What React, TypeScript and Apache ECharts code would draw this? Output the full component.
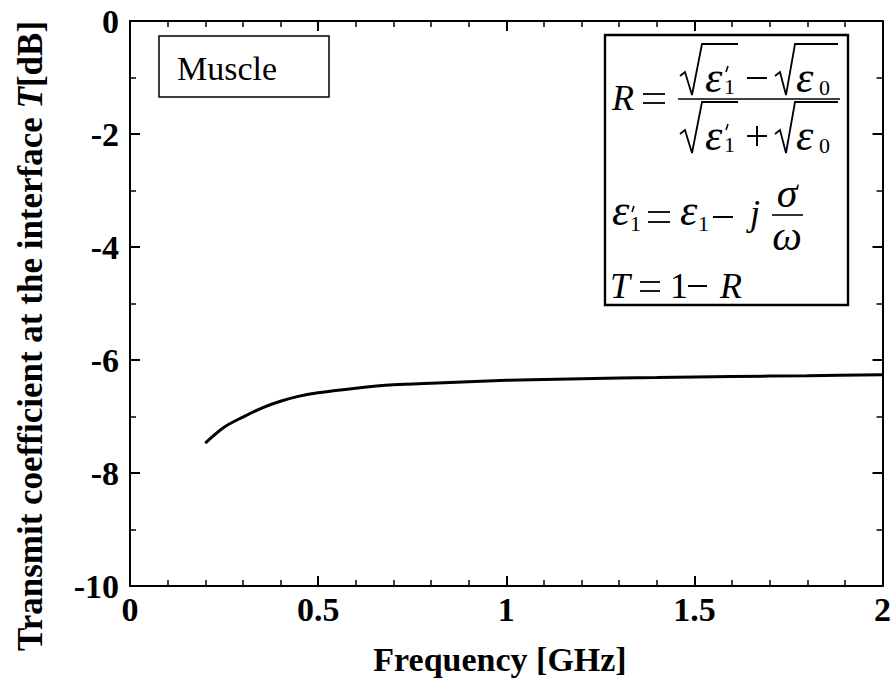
import React, { useEffect, useRef } from 'react';
import * as echarts from 'echarts';

const FREQ_GHZ = [0.2, 0.25, 0.3, 0.35, 0.4, 0.45, 0.5, 0.6, 0.7, 0.8, 1.0, 1.2, 1.4, 1.6, 1.8, 2.0];
const T_DB = [-7.47, -7.19, -7.01, -6.85, -6.73, -6.64, -6.58, -6.5, -6.44, -6.41, -6.36, -6.33, -6.31, -6.29, -6.28, -6.26];
const X_MIN = 0;
const X_MAX = 2;
const X_STEP = 0.5;
const Y_MIN = -10;
const Y_MAX = 0;
const Y_STEP = 2;
const LABEL_TEXT = 'Muscle';
const X_TITLE = 'Frequency [GHz]';
const Y_TITLE_PARTS = ['Transmit coefficient at the interface ', 'T', '[dB]'];

const SERIF = 'Liberation Serif';
const K = 0.34;

function txt(text: string, x: number, base: number, size: number, italic = false, align = 'left', weight = 'normal') {
  return {
    type: 'text',
    x,
    y: base - K * size,
    silent: true,
    style: {
      text: `{a|${text}}`,
      rich: {
        a: {
          fontSize: size,
          fontFamily: SERIF,
          fontStyle: italic ? 'italic' : 'normal',
          fontWeight: weight,
          fill: '#000',
          color: '#000',
        },
      },
      font: `${italic ? 'italic ' : ''}${weight === 'bold' ? 'bold ' : ''}${size}px ${SERIF}`,
      fill: '#000',
      align,
      verticalAlign: 'middle',
    },
  };
}
function ln(x1: number, y1: number, x2: number, y2: number, w = 1.8) {
  return { type: 'line', silent: true, shape: { x1, y1, x2, y2 }, style: { stroke: '#000', lineWidth: w } };
}
function poly(points: number[][], w = 1.8) {
  return { type: 'polyline', silent: true, shape: { points }, style: { stroke: '#000', lineWidth: w, fill: null } };
}
function prime(x: number, y: number) {
  return ln(x + 2, y, x, y + 6, 1.6);
}

function formula() {
  const els: any[] = [];
  els.push(txt('R', 612, 110, 36, true));
  els.push(ln(643, 94, 665, 94), ln(643, 103, 665, 103));
  els.push(ln(678, 99, 840, 99, 1.6));
  const part = (dy: number, op: 'minus' | 'plus') => {
    els.push(poly([[680, 76 + dy], [685, 72 + dy], [692, 95 + dy], [702, 44 + dy], [738, 44 + dy]]));
    els.push(txt('ε', 705, 92 + dy, 44, true));
    els.push(txt('1', 724, 94 + dy, 22));
    els.push(prime(726, 66 + dy));
    els.push(poly([[775, 76 + dy], [780, 72 + dy], [786, 95 + dy], [795, 44 + dy], [838, 44 + dy]]));
    els.push(txt('ε', 796, 92 + dy, 44, true));
    els.push(txt('0', 819, 95 + dy, 22));
    els.push(ln(747, 78 + dy, 767, 78 + dy, 2));
    if (op === 'plus') els.push(ln(757, 68 + dy, 757, 88 + dy, 2));
  };
  part(0, 'minus');
  part(58, 'plus');
  els.push(txt('ε', 612, 225, 44, true));
  els.push(txt('1', 630, 231, 22));
  els.push(prime(632, 206));
  els.push(ln(648, 212, 670, 212), ln(648, 222, 670, 222));
  els.push(txt('ε', 680, 225, 44, true));
  els.push(txt('1', 698, 231, 22));
  els.push(ln(713, 217, 733, 217, 2));
  els.push(txt('j', 750, 225, 36, true));
  els.push(ln(772, 215, 803, 215, 1.6));
  els.push(txt('σ', 787, 207, 42, true, 'center'));
  els.push(txt('ω', 787, 250, 42, true, 'center'));
  els.push(txt('T', 610, 298, 36, true));
  els.push(ln(640, 282, 660, 282), ln(640, 291, 660, 291));
  els.push(txt('1', 670, 298, 36));
  els.push(ln(688, 286, 707, 286, 2));
  els.push(txt('R', 720, 298, 36, true));
  return els;
}

export default function App() {
  const ref = useRef<HTMLDivElement>(null);
  useEffect(() => {
    if (!ref.current) return;
    const chart = echarts.init(ref.current, undefined, { renderer: 'svg' });
    const axisCommon = {
      type: 'value',
      axisLine: { show: true, onZero: false, lineStyle: { color: '#000', width: 2 } },
      axisTick: { show: true, inside: true, length: 10, lineStyle: { color: '#000', width: 2 } },
      splitLine: { show: false },
    };
    const richLabel = {
      t: { fontSize: 34, fontWeight: 'bold', fontFamily: SERIF, color: '#000' },
    };
    const labelStyle = {
      fontSize: 34, fontWeight: 'bold', fontFamily: SERIF, color: '#000',
      formatter: (v: number) => `{t|${v}}`,
      rich: richLabel,
    };
    const xBase = { ...axisCommon, min: X_MIN, max: X_MAX, interval: X_STEP,
      minorTick: { show: true, splitNumber: 5, length: 6, lineStyle: { color: '#000', width: 1.5 } } };
    const yBase = { ...axisCommon, min: Y_MIN, max: Y_MAX, interval: Y_STEP,
      minorTick: { show: true, splitNumber: 2, length: 6, lineStyle: { color: '#000', width: 1.5 } } };
    chart.setOption({
      animation: false,
      backgroundColor: '#fff',
      textStyle: { fontFamily: SERIF },
      grid: { left: 130, right: 11, top: 21, bottom: 99, containLabel: false },
      xAxis: [
        { ...xBase, position: 'bottom', axisLabel: { ...labelStyle, margin: 6 } },
        { ...xBase, position: 'top', axisLabel: { show: false } },
      ],
      yAxis: [
        { ...yBase, position: 'left', axisLabel: { ...labelStyle, margin: 11 } },
        { ...yBase, position: 'right', axisLabel: { show: false } },
      ],
      series: [
        {
          type: 'line',
          xAxisIndex: 0,
          yAxisIndex: 0,
          data: FREQ_GHZ.map((f, i) => [f, T_DB[i]]),
          smooth: 0.3,
          showSymbol: false,
          lineStyle: { color: '#000', width: 3 },
        },
      ],
      graphic: [
        {
          type: 'rect', silent: true,
          shape: { x: 159, y: 36, width: 170, height: 61 },
          style: { fill: '#fff', stroke: '#000', lineWidth: 1.5 },
        },
        txt(LABEL_TEXT, 177, 80, 34),
        {
          type: 'rect', silent: true,
          shape: { x: 605, y: 35, width: 243, height: 270 },
          style: { fill: '#fff', stroke: '#000', lineWidth: 2.4 },
        },
        ...formula(),
        txt(X_TITLE, 500, 671, 34, false, 'center', 'bold'),
        {
          type: 'text', silent: true,
          x: 30, y: 336, rotation: Math.PI / 2,
          style: {
            text: `{b|${Y_TITLE_PARTS[0]}}{i|${Y_TITLE_PARTS[1]}}{b|${Y_TITLE_PARTS[2]}}`,
            rich: {
              b: { fontSize: 35, fontWeight: 'bold', fontFamily: SERIF, fill: '#000', color: '#000' },
              i: { fontSize: 35, fontWeight: 'bold', fontStyle: 'italic', fontFamily: SERIF, fill: '#000', color: '#000' },
            },
            align: 'center',
            verticalAlign: 'middle',
          },
        },
      ],
    });
    return () => chart.dispose();
  }, []);
  return <div ref={ref} style={{ position: 'absolute', left: 0, top: 0, width: 894, height: 685, background: '#fff' }} />;
}
